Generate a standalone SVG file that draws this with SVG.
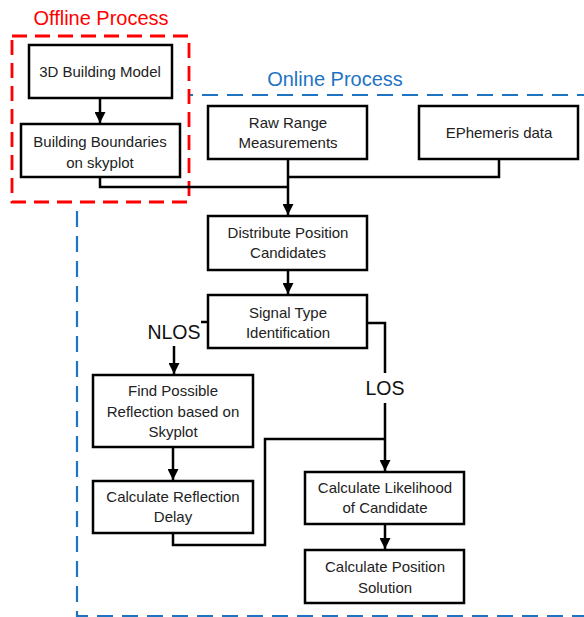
<svg xmlns="http://www.w3.org/2000/svg" width="584" height="617" viewBox="0 0 584 617">
<style>
.box{fill:#fff;stroke:#000;stroke-width:2.5}
.t{font-family:"Liberation Sans",Arial,sans-serif;font-size:15px;fill:#222;text-anchor:middle}
.lbl{font-family:"Liberation Sans",Arial,sans-serif;font-size:19.5px;fill:#111;text-anchor:middle}
.c{fill:none;stroke:#000;stroke-width:2.5}
</style>
<defs>
<marker id="ah" viewBox="0 0 10 10" refX="10" refY="5" markerWidth="4.4" markerHeight="4.4" orient="auto" markerUnits="strokeWidth">
<path d="M0,0 L10,5 L0,10 z" fill="#000"/>
</marker>
</defs>
<rect width="584" height="617" fill="#fff"/>
<g id="online-group">
<rect x="77" y="95" width="520" height="521" fill="none" stroke="#1f74c2" stroke-width="2.2" stroke-dasharray="16,9"/>
<text x="335" y="86" font-family="'Liberation Sans',Arial,sans-serif" font-size="20" fill="#1f74c2" text-anchor="middle">Online Process</text>
</g>
<g id="offline-group">
<rect x="12" y="36" width="177" height="166" fill="#fff" stroke="#f00" stroke-width="2.8" stroke-dasharray="15,8"/>
<text x="101" y="25" font-family="'Liberation Sans',Arial,sans-serif" font-size="20" fill="#f00" text-anchor="middle">Offline Process</text>
</g>
<g id="connectors">
<path class="c" d="M100,98 V123" marker-end="url(#ah)"/>
<path class="c" d="M100,177 V187 H288"/>
<path class="c" d="M499,159 V177 H288"/>
<path class="c" d="M288,159 V215" marker-end="url(#ah)"/>
<path class="c" d="M288,270 V294" marker-end="url(#ah)"/>
<path class="c" d="M208,322 H174 V374" marker-end="url(#ah)"/>
<path class="c" d="M367,323 H385 V471" marker-end="url(#ah)"/>
<path class="c" d="M173,447 V480" marker-end="url(#ah)"/>
<path class="c" d="M173,533 V545 H265 V439 H385"/>
<path class="c" d="M385,524 V549" marker-end="url(#ah)"/>
<rect x="147" y="317" width="54" height="29" fill="#fff"/>
<text class="lbl" x="174" y="339">NLOS</text>
<rect x="366" y="373" width="39" height="30" fill="#fff"/>
<text class="lbl" x="385" y="395">LOS</text>
</g>
<g id="n1"><rect class="box" x="29" y="45" width="143" height="53"/><text class="t" x="100" y="77">3D Building Model</text></g>
<g id="n2"><rect class="box" x="21" y="124" width="159" height="53"/><text class="t" x="100" y="147">Building Boundaries</text><text class="t" x="100" y="168">on skyplot</text></g>
<g id="n3"><rect class="box" x="208" y="106" width="159" height="53"/><text class="t" x="288" y="128">Raw Range</text><text class="t" x="288" y="148">Measurements</text></g>
<g id="n4"><rect class="box" x="419" y="106" width="159" height="53"/><text class="t" x="499" y="138">EPhemeris data</text></g>
<g id="n5"><rect class="box" x="208" y="216" width="159" height="54"/><text class="t" x="288" y="238">Distribute Position</text><text class="t" x="288" y="258">Candidates</text></g>
<g id="n6"><rect class="box" x="208" y="295" width="159" height="53"/><text class="t" x="288" y="318">Signal Type</text><text class="t" x="288" y="338">Identification</text></g>
<g id="n7"><rect class="box" x="93" y="375" width="160" height="72"/><text class="t" x="173" y="396">Find Possible</text><text class="t" x="173" y="417">Reflection based on</text><text class="t" x="173" y="437">Skyplot</text></g>
<g id="n8"><rect class="box" x="93" y="481" width="160" height="52"/><text class="t" x="173" y="502">Calculate Reflection</text><text class="t" x="173" y="522">Delay</text></g>
<g id="n9"><rect class="box" x="305" y="472" width="159" height="52"/><text class="t" x="385" y="493">Calculate Likelihood</text><text class="t" x="385" y="513">of Candidate</text></g>
<g id="n10"><rect class="box" x="305" y="550" width="159" height="53"/><text class="t" x="385" y="572">Calculate Position</text><text class="t" x="385" y="593">Solution</text></g>
</svg>
